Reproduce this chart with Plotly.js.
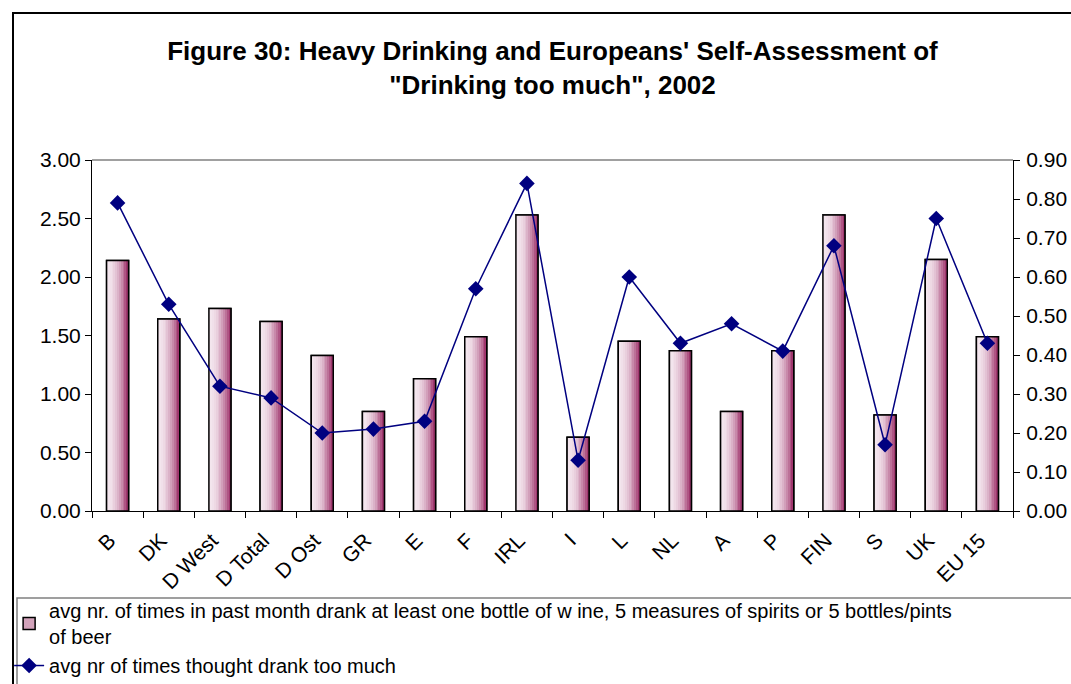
<!DOCTYPE html>
<html>
<head>
<meta charset="utf-8">
<script src="https://cdn.plot.ly/plotly-3.0.1.min.js"></script>
<style>
  html, body { margin: 0; padding: 0; background: #fff; }
  #plot { width: 1071px; height: 684px; }
</style>
</head>
<body>
<div id="plot"></div>
<script>
// countries on the x axis
var countries = ["B", "DK", "D West", "D Total", "D Ost", "GR", "E", "F", "IRL", "I",
                 "L", "NL", "A", "P", "FIN", "S", "UK", "EU 15"];

// avg nr. of times heavy drinking in past month (left axis)
var heavyDrinking = [2.14, 1.64, 1.73, 1.62, 1.33, 0.85, 1.13, 1.49, 2.53, 0.63,
                     1.45, 1.37, 0.85, 1.37, 2.53, 0.82, 2.15, 1.49];

// avg nr. of times thought drank too much (right axis)
var tooMuch = [0.79, 0.53, 0.32, 0.29, 0.20, 0.21, 0.23, 0.57, 0.84, 0.13,
               0.60, 0.43, 0.48, 0.41, 0.68, 0.17, 0.75, 0.43];

var leftTicks = [0, 0.5, 1, 1.5, 2, 2.5, 3];
var rightTicks = [0, 0.1, 0.2, 0.3, 0.4, 0.5, 0.6, 0.7, 0.8, 0.9];

var barName = "avg nr. of times in past month drank at least one bottle of w ine, 5 measures of spirits or 5 bottles/pints<br>of beer";
var lineName = "avg nr of times thought drank too much";

var barW = 0.43;

// main bar (legend entry)
var data = [{
  x: countries,
  y: heavyDrinking,
  name: barName,
  type: "bar",
  width: barW,
  offset: -barW / 2,
  marker: { color: "#d3a3bb", line: { color: "black", width: 1.5 } },
  hoverinfo: "y"
}];

// fake a left-to-right gradient with thin strips
var nStrips = 12;
var c0 = [244, 230, 238], c1 = [160, 55, 110];
for (var i = 0; i < nStrips; i++) {
  var t = i / (nStrips - 1);
  t = Math.pow(t, 2);
  var col = "rgb(" + c0.map((v, k) => Math.round(v + (c1[k] - v) * t)).join(",") + ")";
  data.push({
    x: countries,
    y: heavyDrinking,
    type: "bar",
    width: barW / nStrips + 0.002,
    offset: -barW / 2 + i * barW / nStrips,
    marker: { color: col, line: { width: 0 } },
    showlegend: false,
    hoverinfo: "skip"
  });
}

// black outline on top
data.push({
  x: countries,
  y: heavyDrinking,
  type: "bar",
  width: barW,
  offset: -barW / 2,
  marker: { color: "rgba(0,0,0,0)", line: { color: "black", width: 1.5 } },
  showlegend: false,
  hoverinfo: "skip"
});

data.push({
  x: countries,
  y: tooMuch,
  name: lineName,
  type: "scatter",
  mode: "lines+markers",
  yaxis: "y2",
  line: { color: "#000080", width: 1.5 },
  marker: { symbol: "diamond", size: 12, color: "#000080" }
});

var layout = {
  width: 1071,
  height: 684,
  paper_bgcolor: "white",
  plot_bgcolor: "white",
  font: { family: "Liberation Sans, Arial, sans-serif", size: 21, color: "black" },
  margin: { l: 92, r: 58, t: 160, b: 173, autoexpand: false },
  barmode: "overlay",
  title: {
    text: "<b>Figure 30: Heavy Drinking and Europeans' Self-Assessment of<br>\"Drinking too much\", 2002</b>",
    font: { size: 26, color: "black" },
    x: 0.5,
    xref: "paper",
    xanchor: "center",
    y: 1 - 60 / 684,
    yref: "container",
    yanchor: "middle"
  },
  xaxis: {
    type: "category",
    range: [-0.5, countries.length - 0.5],
    tickangle: -45,
    automargin: false,
    showline: true,
    linecolor: "black",
    linewidth: 1,
    ticks: "outside",
    tickson: "boundaries",
    ticklen: 6,
    tickcolor: "black",
    ticklabelstandoff: 8,
    ticklabelshift: -8,
    showgrid: false,
    zeroline: false,
    tickfont: { size: 21 }
  },
  yaxis: {
    range: [0, 3],
    tickvals: leftTicks,
    tickformat: ".2f",
    automargin: false,
    showline: true,
    linecolor: "black",
    ticks: "outside",
    ticklen: 6,
    tickcolor: "black",
    showgrid: false,
    zeroline: false,
    tickfont: { size: 21 },
    fixedrange: true
  },
  yaxis2: {
    range: [0, 0.9],
    tickvals: rightTicks,
    tickformat: ".2f",
    overlaying: "y",
    side: "right",
    automargin: false,
    showline: true,
    linecolor: "black",
    ticks: "outside",
    ticklen: 6,
    tickcolor: "black",
    ticklabelstandoff: 2,
    showgrid: false,
    zeroline: false,
    tickfont: { size: 21 }
  },
  showlegend: true,
  legend: {
    x: -0.09,
    y: -0.228,
    xanchor: "left",
    yanchor: "top",
    orientation: "v",
    bgcolor: "rgba(0,0,0,0)",
    font: { size: 20 },
    tracegroupgap: 0,
    itemwidth: 30
  },
  shapes: [
    // grey top edge of plot area
    { type: "line", xref: "paper", yref: "paper", x0: 0, x1: 1, y0: 1, y1: 1,
      line: { color: "#808080", width: 1.5 } },
    // outer chart border
    { type: "rect", xref: "paper", yref: "paper",
      x0: (13 - 92) / 921, x1: (1080 - 92) / 921,
      y0: (511 - 700) / 351, y1: (511 - 13) / 351,
      line: { color: "black", width: 2 } },
    // legend box
    { type: "rect", xref: "paper", yref: "paper",
      x0: (17 - 92) / 921, x1: (1080 - 92) / 921,
      y0: (511 - 700) / 351, y1: (511 - 598) / 351,
      line: { color: "#808080", width: 1.5 } }
  ]
};

Plotly.newPlot("plot", data, layout, { displayModeBar: false });
</script>
</body>
</html>
